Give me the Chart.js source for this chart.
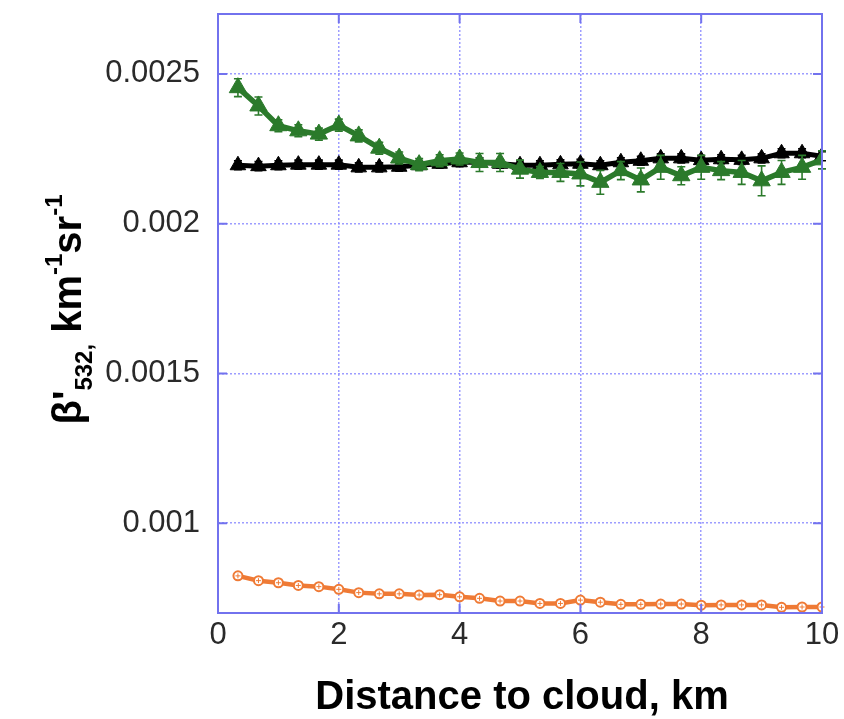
<!DOCTYPE html>
<html>
<head>
<meta charset="utf-8">
<script src="https://cdn.jsdelivr.net/npm/chart.js@4/dist/chart.umd.min.js"></script>
<style>
  html, body { margin: 0; padding: 0; background: #ffffff; }
  #wrap { width: 844px; height: 719px; }
</style>
</head>
<body>
<div id="wrap"><canvas id="c" width="844" height="719"></canvas></div>
<script>
// Distance to cloud (km) for every profile sample
const distanceKm = [0.33, 0.67, 1.0, 1.33, 1.67, 2.0, 2.33, 2.67, 3.0, 3.33,
                    3.67, 4.0, 4.33, 4.67, 5.0, 5.33, 5.67, 6.0, 6.33, 6.67,
                    7.0, 7.33, 7.67, 8.0, 8.33, 8.67, 9.0, 9.33, 9.67, 10.0];

// Attenuated backscatter at 532 nm, km^-1 sr^-1
const betaGreen = [0.002454, 0.002393, 0.002327, 0.002310, 0.002299, 0.002329, 0.002293, 0.002252, 0.002219, 0.002197,
                   0.002210, 0.002216, 0.002204, 0.002204, 0.002182, 0.002171, 0.002171, 0.002166, 0.002138, 0.002177,
                   0.002146, 0.002188, 0.002160, 0.002188, 0.002177, 0.002171, 0.002143, 0.002171, 0.002188, 0.002213];
const errGreen  = [0.00003, 0.00003, 0.00002, 0.00002, 0.00002, 0.00002, 0.00002, 0.00002, 0.00002, 0.00002,
                   0.00002, 0.00002, 0.00003, 0.00003, 0.00003, 0.00002, 0.00003, 0.00004, 0.00004, 0.00003,
                   0.00004, 0.00004, 0.00003, 0.00004, 0.00003, 0.00004, 0.00005, 0.00004, 0.00004, 0.00003];

const betaBlack = [0.002195, 0.002192, 0.002195, 0.002197, 0.002197, 0.002197, 0.002188, 0.002188, 0.002190, 0.002195,
                   0.002200, 0.002205, 0.002205, 0.002200, 0.002195, 0.002195, 0.002198, 0.002200, 0.002195, 0.002205,
                   0.002210, 0.002218, 0.002218, 0.002212, 0.002215, 0.002213, 0.002218, 0.002235, 0.002235, 0.002225];
const errBlack  = [0.000015, 0.000015, 0.000015, 0.000015, 0.000015, 0.000015, 0.000015, 0.000015, 0.000015, 0.000015,
                   0.000015, 0.000015, 0.000015, 0.000015, 0.000015, 0.000015, 0.000015, 0.000015, 0.000015, 0.000015,
                   0.000015, 0.000015, 0.000015, 0.000015, 0.000015, 0.000015, 0.000015, 0.000015, 0.000015, 0.000015];

const betaOrange = [0.000824, 0.000808, 0.000801, 0.000792, 0.000788, 0.000779, 0.000768, 0.000764, 0.000764, 0.000760,
                    0.000761, 0.000754, 0.000749, 0.000740, 0.000740, 0.000732, 0.000732, 0.000743, 0.000736, 0.000729,
                    0.000729, 0.000730, 0.000730, 0.000726, 0.000727, 0.000727, 0.000727, 0.000719, 0.000720, 0.000720];

// Axis ticks
const xTickValues = [0, 2, 4, 6, 8, 10];
const yTickValues = [0.001, 0.0015, 0.002, 0.0025];
const yTickLabels = ['0.001', '0.0015', '0.002', '0.0025'];

const GREEN = '#2b7a2b';
const BLACK = '#000000';
const ORANGE = '#ef7a35';
const FRAME = '#7272ee';
const GRID = 'rgba(140,140,255,0.85)';

function toPoints(ys) {
  return distanceKm.map((x, i) => ({ x: x, y: ys[i] }));
}

// Vertical error bars with caps, drawn just before their own dataset;
// open markers get a small cross drawn over them afterwards
const errorBars = {
  id: 'errorBars',
  beforeDatasetDraw(chart, args) {
    const ds = chart.data.datasets[args.index];
    if (!ds.errors) return;
    const xs = chart.scales.x, ys = chart.scales.y;
    const ctx = chart.ctx;
    ctx.save();
    ctx.strokeStyle = ds.borderColor;
    ctx.lineWidth = 1.6;
    ds.data.forEach((p, i) => {
      const e = ds.errors[i];
      const px = xs.getPixelForValue(p.x);
      const y1 = ys.getPixelForValue(p.y - e);
      const y2 = ys.getPixelForValue(p.y + e);
      ctx.beginPath();
      ctx.moveTo(px, y1); ctx.lineTo(px, y2);
      ctx.moveTo(px - 4, y1); ctx.lineTo(px + 4, y1);
      ctx.moveTo(px - 4, y2); ctx.lineTo(px + 4, y2);
      ctx.stroke();
    });
    ctx.restore();
  },
  afterDatasetDraw(chart, args) {
    const ds = chart.data.datasets[args.index];
    if (!ds.crossMarks) return;
    const ctx = chart.ctx;
    ctx.save();
    ctx.strokeStyle = ds.borderColor;
    ctx.lineWidth = 1;
    args.meta.data.forEach(el => {
      ctx.beginPath();
      ctx.moveTo(el.x - 2.5, el.y); ctx.lineTo(el.x + 2.5, el.y);
      ctx.moveTo(el.x, el.y - 2.5); ctx.lineTo(el.x, el.y + 2.5);
      ctx.stroke();
    });
    ctx.restore();
  }
};

// Box frame with short inward tick marks on all four sides, plus axis titles
const frameAndTitles = {
  id: 'frameAndTitles',
  afterDraw(chart) {
    const ctx = chart.ctx;
    const a = chart.chartArea;
    const xs = chart.scales.x, ys = chart.scales.y;
    ctx.save();
    ctx.strokeStyle = FRAME;
    ctx.lineWidth = 2;
    ctx.strokeRect(a.left, a.top, a.right - a.left, a.bottom - a.top);
    ctx.beginPath();
    const tl = 9;
    xTickValues.forEach(v => {
      const px = xs.getPixelForValue(v);
      ctx.moveTo(px, a.bottom); ctx.lineTo(px, a.bottom - tl);
      ctx.moveTo(px, a.top); ctx.lineTo(px, a.top + tl);
    });
    yTickValues.forEach(v => {
      const py = ys.getPixelForValue(v);
      ctx.moveTo(a.left, py); ctx.lineTo(a.left + tl, py);
      ctx.moveTo(a.right, py); ctx.lineTo(a.right - tl, py);
    });
    ctx.stroke();

    // x-axis title
    ctx.fillStyle = '#000';
    ctx.font = 'bold 40px "Liberation Sans", Arial, sans-serif';
    ctx.textAlign = 'center';
    ctx.textBaseline = 'alphabetic';
    ctx.fillText('Distance to cloud, km', (a.left + a.right) / 2 + 2, 709);

    // y-axis title with sub- and superscripts, rotated
    const main = 'bold 40px "Liberation Sans", Arial, sans-serif';
    const small = 'bold 24px "Liberation Sans", Arial, sans-serif';
    const parts = [
      { t: "\u03b2'", f: main, dy: 0 },
      { t: '532,', f: small, dy: 11 },
      { t: ' km', f: main, dy: 0 },
      { t: '-1', f: small, dy: -19 },
      { t: 'sr', f: main, dy: 0 },
      { t: '-1', f: small, dy: -19 }
    ];
    let total = 0;
    parts.forEach(p => { ctx.font = p.f; p.w = ctx.measureText(p.t).width; total += p.w; });
    ctx.translate(81, (a.top + a.bottom) / 2 - 4);
    ctx.rotate(-Math.PI / 2);
    ctx.textAlign = 'left';
    let cx = -total / 2;
    parts.forEach(p => {
      ctx.font = p.f;
      ctx.fillText(p.t, cx, p.dy);
      cx += p.w;
    });
    ctx.restore();
  }
};

const tickFont = { family: '"Liberation Sans", Arial, sans-serif', size: 31 };

new Chart(document.getElementById('c'), {
  type: 'line',
  data: {
    datasets: [
      {
        label: 'green',
        data: toPoints(betaGreen),
        errors: errGreen,
        borderColor: GREEN,
        backgroundColor: GREEN,
        borderWidth: 5.5,
        pointStyle: 'triangle',
        pointRadius: 10,
        pointBorderWidth: 1,
        order: 0
      },
      {
        label: 'black',
        data: toPoints(betaBlack),
        errors: errBlack,
        borderColor: BLACK,
        backgroundColor: BLACK,
        borderWidth: 5,
        pointStyle: 'triangle',
        pointRadius: 9,
        pointBorderWidth: 1,
        order: 1
      },
      {
        label: 'orange',
        data: toPoints(betaOrange),
        crossMarks: true,
        borderColor: ORANGE,
        backgroundColor: '#ffffff',
        borderWidth: 4.5,
        pointStyle: 'circle',
        pointRadius: 4.5,
        pointBorderWidth: 2,
        order: 2
      }
    ]
  },
  options: {
    responsive: false,
    devicePixelRatio: 1,
    animation: false,
    layout: { padding: { top: 14, right: 22, left: 0, bottom: 0 } },
    plugins: { legend: { display: false }, tooltip: { enabled: false } },
    elements: { line: { tension: 0 } },
    scales: {
      x: {
        type: 'linear',
        min: 0, max: 10,
        ticks: { stepSize: 2, font: tickFont, color: '#2a2a2a', padding: 4, maxRotation: 0 },
        afterBuildTicks: s => { s.ticks = xTickValues.map(v => ({ value: v })); },
        afterFit: s => { s.height = 106; s.paddingLeft = 0; s.paddingRight = 0; },
        grid: { color: GRID, lineWidth: 1.5, drawTicks: false },
        border: { display: false, dash: [2, 2] }
      },
      y: {
        type: 'linear',
        min: 0.0007, max: 0.0027,
        ticks: {
          font: tickFont, color: '#2a2a2a', padding: 18,
          callback: v => {
            const i = yTickValues.findIndex(t => Math.abs(t - v) < 1e-9);
            return i >= 0 ? yTickLabels[i] : '';
          }
        },
        afterBuildTicks: s => { s.ticks = yTickValues.map(v => ({ value: v })); },
        afterFit: s => { s.width = 218; s.paddingTop = 0; s.paddingBottom = 0; },
        grid: { color: GRID, lineWidth: 1.5, drawTicks: false },
        border: { display: false, dash: [2, 2] }
      }
    }
  },
  plugins: [errorBars, frameAndTitles]
});
</script>
</body>
</html>
